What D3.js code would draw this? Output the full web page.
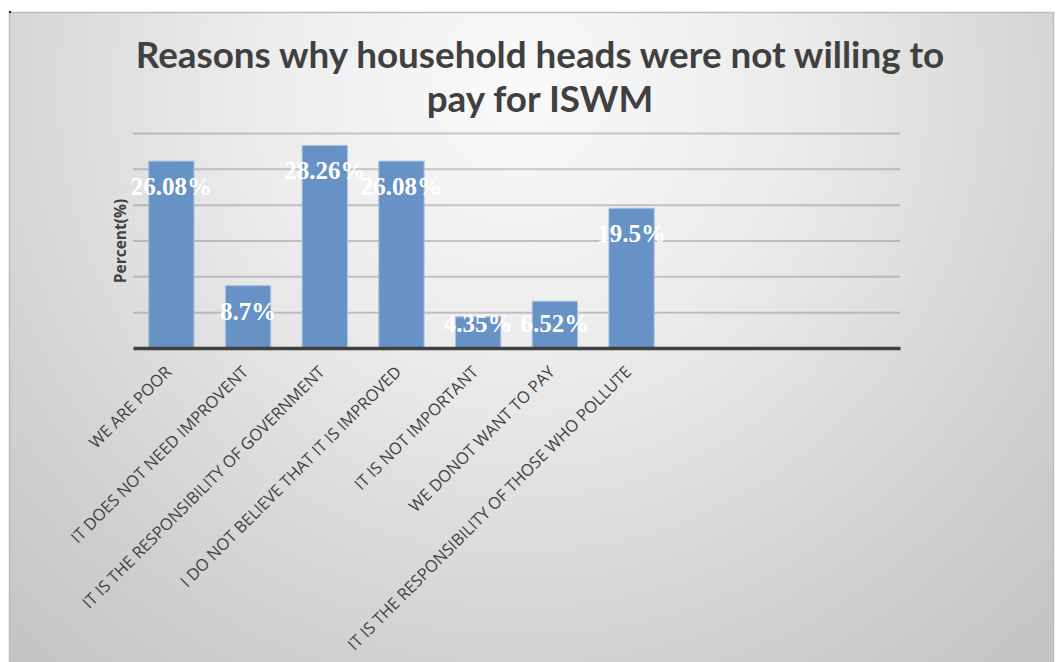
<!DOCTYPE html>
<html>
<head>
<meta charset="utf-8">
<script src="https://cdn.jsdelivr.net/npm/d3@7"></script>
<style>
  body { margin: 0; background: #fff; }
  svg { display: block; }
</style>
</head>
<body>
<script>
// chart data
var categories = [
    "WE ARE POOR",
    "IT DOES NOT NEED IMPROVENT",
    "IT IS THE RESPONSIBILITY OF GOVERNMENT",
    "I DO NOT BELIEVE THAT IT IS IMPROVED",
    "IT IS NOT IMPORTANT",
    "WE DONOT WANT TO PAY",
    "IT IS THE RESPONSIBILITY OF THOSE WHO POLLUTE",
    "", "", ""
];
var percents = [26.08, 8.7, 28.26, 26.08, 4.35, 6.52, 19.5, null, null, null];
var valueLabels = ["26.08%", "8.7%", "28.26%", "26.08%", "4.35%", "6.52%", "19.5%", "", "", ""];
var gridTicks = [0, 5, 10, 15, 20, 25, 30];
var titleLines = ["Reasons why household heads were not willing to", "pay for ISWM"];

var W = 1056, H = 662;
var plot = {left: 133, right: 900, top: 133, bottom: 348};

var svg = d3.select("body")
    .append("svg")
        .attr("width", W)
        .attr("height", H);

var defs = svg.append("defs");
var grad = defs.append("radialGradient")
    .attr("id", "bg")
    .attr("gradientUnits", "userSpaceOnUse")
    .attr("cx", 520).attr("cy", 90)
    .attr("r", 760);
grad.append("stop").attr("offset", "0%").attr("stop-color", "#fafafa");
grad.append("stop").attr("offset", "35%").attr("stop-color", "#ececec");
grad.append("stop").attr("offset", "75%").attr("stop-color", "#d2d2d2");
grad.append("stop").attr("offset", "100%").attr("stop-color", "#c4c4c4");

// chart area with frame
svg.append("rect")
    .attr("x", 9.5)
    .attr("y", 12.5)
    .attr("width", 1044)
    .attr("height", 660)
    .attr("fill", "url(#bg)")
    .attr("stroke", "#bdbdbd")
    .attr("stroke-width", 1.5);

svg.append("rect")
    .attr("x", 9).attr("y", 11)
    .attr("width", 2).attr("height", 2)
    .attr("fill", "#222");

// title
svg.append("g")
    .selectAll("text")
    .data(titleLines)
    .enter()
    .append("text")
        .attr("x", 540)
        .attr("y", (d, i) => 68 + i * 44)
        .attr("text-anchor", "middle")
        .attr("font-family", "Lato, 'Open Sans', sans-serif")
        .attr("font-weight", "bold")
        .attr("font-size", "36.8px")
        .style("fill", "#404040")
        .text(d => d);

var x = d3.scaleBand()
    .domain(d3.range(categories.length))
    .range([plot.left, plot.right])
    .paddingInner(0.41)
    .paddingOuter(0.205);

var y = d3.scaleLinear()
    .domain([0, 30])
    .range([plot.bottom, plot.top]);

// gridlines
var grid = svg.append("g")
    .attr("class", "grid")
    .attr("transform", "translate(" + plot.left + ",0)")
    .call(d3.axisLeft(y)
        .tickValues(gridTicks.slice(1))
        .tickSize(-(plot.right - plot.left))
        .tickFormat(""));
grid.select(".domain").remove();
grid.selectAll("line")
    .attr("stroke", "#6e6e6e")
    .attr("stroke-opacity", 0.35)
    .attr("stroke-width", 2);

// bars
svg.append("g")
    .selectAll("rect")
    .data(percents)
    .enter()
    .filter(d => d !== null)
    .append("rect")
        .attr("x", (d, i) => x(i))
        .attr("y", d => y(d))
        .attr("width", x.bandwidth())
        .attr("height", d => y(0) - y(d))
        .attr("fill", "#6792c5")
        .attr("stroke", "#a9c1e0")
        .attr("stroke-width", 1);

// baseline + category labels
var bottomAxis = svg.append("g")
    .attr("class", "bottom axis")
    .attr("transform", "translate(0," + plot.bottom + ")")
    .call(d3.axisBottom(x).tickSize(0).tickFormat(i => categories[i]));
bottomAxis.select(".domain")
    .attr("stroke", "#404040")
    .attr("stroke-width", 3.5);
bottomAxis.selectAll("text")
    .attr("font-family", "'Open Sans', sans-serif")
    .attr("font-size", "16.4px")
    .attr("fill", "#404040")
    .attr("text-anchor", "end")
    .attr("dy", 0)
    .attr("x", 1)
    .attr("y", 25)
    .attr("transform", "rotate(-45, 1, 25)");

// data labels
svg.append("g")
    .selectAll("text")
    .data(percents)
    .enter()
    .filter(d => d !== null)
    .append("text")
        .attr("x", (d, i) => x(i) + x.bandwidth() / 2)
        .attr("y", d => Math.min(y(d) + 34, plot.bottom - 16))
        .attr("text-anchor", "middle")
        .attr("font-family", "'Liberation Serif', 'Times New Roman', serif")
        .attr("font-weight", "bold")
        .attr("font-size", "25px")
        .style("fill", "#ffffff")
        .text((d, i) => valueLabels[i]);

// y axis title
svg.append("text")
    .attr("transform", "translate(126," + 241 + ") rotate(-90)")
    .attr("text-anchor", "middle")
    .attr("font-family", "'Open Sans', sans-serif")
    .attr("font-weight", "bold")
    .attr("font-size", "15.5px")
    .style("fill", "#404040")
    .text("Percent(%)");
</script>
</body>
</html>
